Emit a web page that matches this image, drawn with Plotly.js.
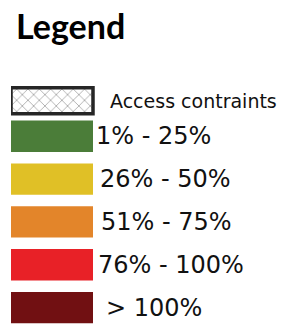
<!DOCTYPE html>
<html>
<head>
<meta charset="utf-8">
<script src="https://cdn.plot.ly/plotly-3.0.1.min.js"></script>
<style>html,body{margin:0;padding:0;background:#fff;}#chart{width:282px;height:332px;}</style>
</head>
<body>
<div id="chart"></div>
<script>
// Legend data
const categories = ["Access contraints", "1% - 25%", "26% - 50%", "51% - 75%", "76% - 100%", "> 100%"];
const swatchValues = [1, 1, 1, 1, 1, 1];
const swatchColors = ["#ffffff", "#4b7d39", "#e0c026", "#e3852a", "#e82127", "#711012"];

// styles
const labelShift = [15, 1, 5, 6, 3, 11];
const labelYShift = [-8, 0, 0, 0, 0, 0];
const labelSize = [19, 24, 24, 24, 24, 24];

const traces = [
  {
    type: "bar", orientation: "h",
    y: categories.slice(0, 1), x: swatchValues.slice(0, 1),
    width: 0.607, offset: -0.13,
    marker: {
      color: swatchColors[0],
      line: {width: 3.5, color: "#262626"},
      pattern: {shape: "x", fgcolor: "#a8a8a8", bgcolor: "#ffffff", size: 8, solidity: 0.2}
    },
    hoverinfo: "skip", showlegend: false
  },
  {
    type: "bar", orientation: "h",
    y: categories.slice(1), x: swatchValues.slice(1),
    width: 0.73,
    marker: {color: swatchColors.slice(1), line: {width: 0}},
    hoverinfo: "skip", showlegend: false
  }
];

const annotations = categories.map((c, i) => ({
  x: swatchValues[i], y: c, xref: "x", yref: "y",
  text: c, showarrow: false, xanchor: "left", yanchor: "middle",
  xshift: labelShift[i], yshift: labelYShift[i],
  font: {family: "DejaVu Sans", size: labelSize[i], color: "#111111"}
}));

const layout = {
  width: 282, height: 332,
  margin: {l: 11, r: 0, t: 72, b: 3, pad: 0},
  paper_bgcolor: "#ffffff", plot_bgcolor: "#ffffff",
  barmode: "overlay",
  title: {
    text: "<b>Legend</b>",
    x: 16 / 282, xref: "container", xanchor: "left",
    y: 1 - 15 / 332, yref: "container", yanchor: "top",
    font: {family: "Lato", size: 34, color: "#000000"}
  },
  xaxis: {range: [0, 271 / 82], visible: false, fixedrange: true},
  yaxis: {type: "category", categoryorder: "array", categoryarray: categories,
          range: [5.5, -0.5], visible: false, fixedrange: true},
  annotations: annotations,
  showlegend: false
};

Plotly.newPlot("chart", traces, layout, {displayModeBar: false, staticPlot: true});
</script>
</body>
</html>
